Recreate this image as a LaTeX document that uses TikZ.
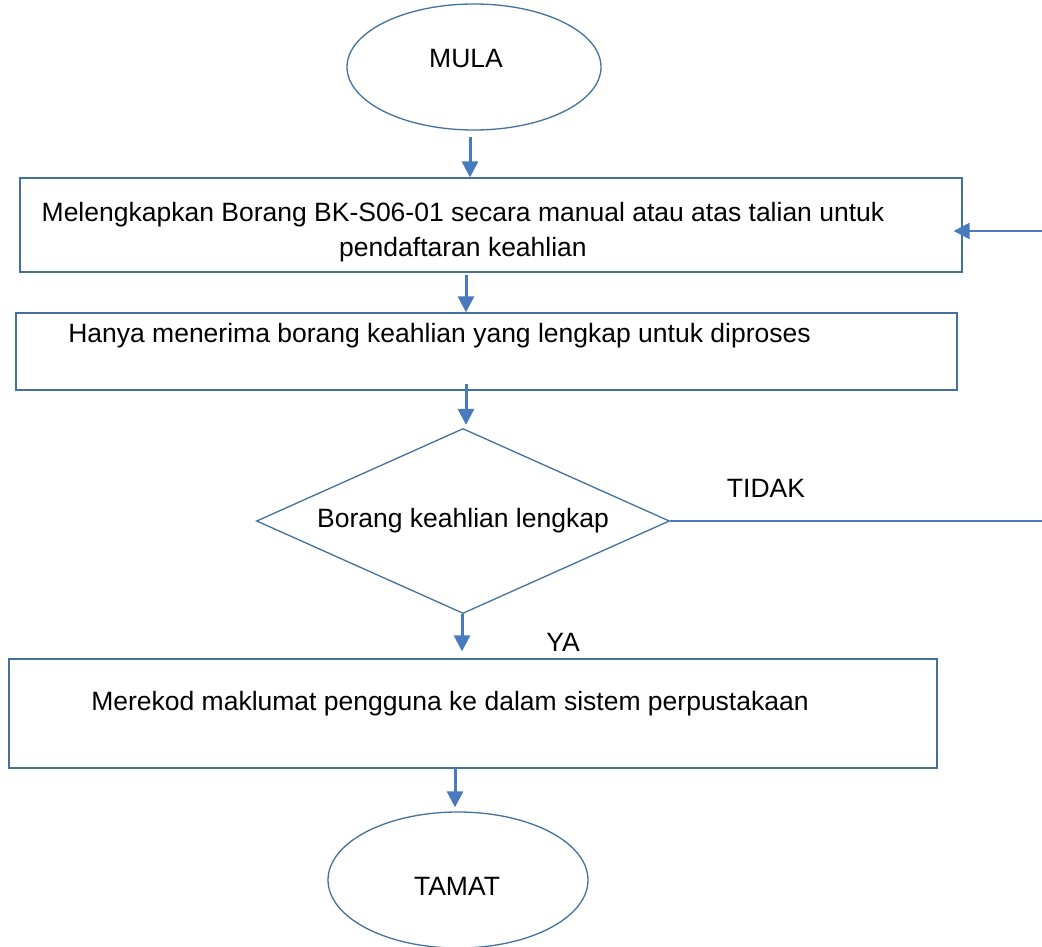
\documentclass[tikz,border=0pt]{standalone}
\usepackage{fontspec}
\setmainfont{Liberation Sans}
\usetikzlibrary{shapes.geometric,arrows.meta}
\definecolor{edgeblue}{RGB}{65,113,156}
\definecolor{arrowblue}{RGB}{74,122,190}

\begin{document}
\begin{tikzpicture}[x=1pt,y=-1pt,>={Triangle[width=16pt,length=16pt]},
  every node/.style={font=\fontsize{26.5}{35}\selectfont},
  stepbox/.style={draw=edgeblue,line width=1.3pt,rectangle,inner sep=0pt},
  oval/.style={draw=edgeblue,line width=1.3pt,ellipse,inner sep=0pt},
  arr/.style={->,arrowblue,line width=3pt},
  txt/.style={inner sep=0pt,align=center}]
  \useasboundingbox (0,0) rectangle (1042,947);
  % start and end
  \node[oval,minimum width=254pt,minimum height=126pt] (mula) at (474,67) {};
  \node[txt] (mulatxt) at (466,59) {MULA};
  \node[oval,minimum width=260pt,minimum height=136pt] (tamat) at (458,880) {};
  \node[txt] (tamattxt) at (457,886) {TAMAT};
  % process boxes
  \node[stepbox,minimum width=942pt,minimum height=94pt] (box1) at (491,225) {};
  \node[txt] (box1txt) at (463,232) {Melengkapkan Borang BK-S06-01 secara manual atau atas talian untuk\\pendaftaran keahlian};
  \node[stepbox,minimum width=941pt,minimum height=77pt] (box2) at (486.5,351.5) {};
  \node[txt] (box2txt) at (439.5,336) {Hanya menerima borang keahlian yang lengkap untuk diproses};
  \node[stepbox,minimum width=928pt,minimum height=109pt] (box3) at (473,713.5) {};
  \node[txt] (box3txt) at (450,704) {Merekod maklumat pengguna ke dalam sistem perpustakaan};
  % decision
  \node[diamond,draw=edgeblue,line width=1.3pt,inner sep=0pt,aspect=2.23,
    minimum width=413pt,minimum height=185pt] (semak) at (463,521) {Borang keahlian lengkap};
  \node[txt] (tidak) at (766,488) {TIDAK};
  \node[txt] (ya) at (563,642) {YA};
  \coordinate (tidakend) at (1042,521);
  \coordinate (balik) at (1042,231);
  % arrows
  \draw[arr,shorten <=6pt] ([xshift=-4pt]mula.south) -- ([xshift=-4pt]mula.south |- box1.north);
  \draw[arr,shorten <=2pt] ([xshift=-25pt]box1.south) -- ([xshift=-25pt]box1.south |- box2.north);
  \draw[arr,shorten <=-7pt,shorten >=3pt] ([xshift=-20.5pt]box2.south) -- ([xshift=-20.5pt]box2.south |- semak.north);
  \draw[arr,shorten >=7pt] ([xshift=-1pt]semak.south) -- ([xshift=-1pt]semak.south |- box3.north);
  \draw[arr,shorten <=-1pt,shorten >=4pt] ([xshift=-18pt]box3.south) -- ([xshift=-18pt]box3.south |- tamat.north);
  \draw[arrowblue,line width=2pt] (semak.east) -- (tidakend);
  \draw[arr,line width=2.5pt,shorten >=-9pt] (balik) -- (box1.east |- balik);
\end{tikzpicture}
\end{document}
